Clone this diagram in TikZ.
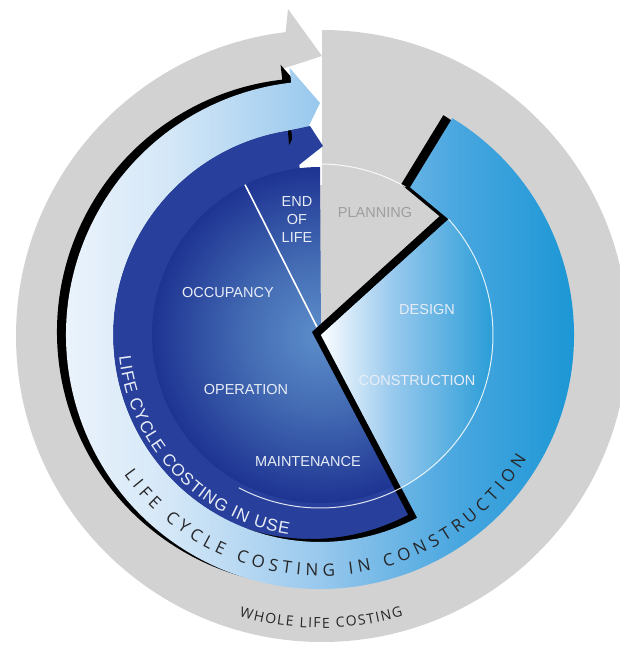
\documentclass[tikz,border=0pt]{standalone}
\usepackage{fontspec}
\setmainfont{Liberation Sans}
\newfontfamily\arcfont{Open Sans}
\usetikzlibrary{decorations.text}
\definecolor{wlgray}{RGB}{211,210,210}
\definecolor{usering}{RGB}{40,64,156}
\definecolor{usein}{RGB}{92,142,202}
\definecolor{usemid}{RGB}{68,108,180}
\definecolor{useout}{RGB}{30,52,146}
\definecolor{lc0}{RGB}{242,247,253}
\definecolor{lc1}{RGB}{212,231,247}
\definecolor{lc2}{RGB}{152,200,237}
\definecolor{lc3}{RGB}{72,166,223}
\definecolor{lc4}{RGB}{14,146,210}
\definecolor{dg0}{RGB}{252,253,255}
\definecolor{dg1}{RGB}{150,200,237}
\definecolor{dg2}{RGB}{30,152,213}
\definecolor{lbltxt}{RGB}{232,237,246}
\definecolor{plantxt}{RGB}{158,158,158}
\definecolor{arctxt}{RGB}{38,38,40}
\pgfdeclareradialshading{inuse}{\pgfpoint{0bp}{0bp}}{color(0bp)=(usein);color(11bp)=(usemid);color(25bp)=(useout);color(50bp)=(useout)}
\pgfdeclarehorizontalshading{lccons}{100bp}{color(0bp)=(lc0);color(25bp)=(lc0);color(37bp)=(lc1);color(50bp)=(lc2);color(62bp)=(lc3);color(75bp)=(lc4);color(100bp)=(lc4)}
\pgfdeclarehorizontalshading{design}{100bp}{color(0bp)=(dg0);color(25bp)=(dg0);color(45bp)=(dg1);color(75bp)=(dg2);color(100bp)=(dg2)}
\tikzset{
  lbl/.style={text=lbltxt,font=\fontsize{14.5}{18}\selectfont,inner sep=0pt},
  arctext/.style={decorate,decoration={text along path,text align=fit to path,text={#1}}},
}
% ring of construction costing, with the design sector and the arrow head
\newcommand\lccpath{(58.6:254) arc[start angle=58.6,end angle=-263.5,radius=254]
  -- (96.5:269) -- (0,232) -- (96.7:188) -- (96.5:207)
  arc[start angle=96.5,end angle=298,radius=207]
  -- (1,0) -- (42:173) -- (58.6:173) -- cycle}

\begin{document}
\begin{tikzpicture}[x=1pt,y=1pt,line join=round]
\useasboundingbox (-320,-310) rectangle (300,335);
\clip (-320,-310) rectangle (300,335);
\path
  (1,0)coordinate(V)
  (42:173)coordinate(T)
  (58.6:173)coordinate(N)
  (-3,8)coordinate(E0)
  (116.5:168)coordinate(E1)
  ;
% whole life costing
\fill[wlgray] (2,-1) circle (306);
\fill[white] (-32,330) -- (2,330) -- (2,150) -- (-38,150) -- (-38,266) -- (-32,270) -- cycle;
\fill[wlgray] (-32,326) -- (2,279) -- (-38,266) -- cycle;
% in use
\fill[usering] (V) -- (97:207) arc[start angle=97,end angle=305,radius=207] -- cycle;
\begin{scope}
  \clip (V) -- (90:168) arc[start angle=90,end angle=305,radius=168] -- cycle;
  \shade[shading=inuse] (0,0) circle (168);
\end{scope}
% construction
\begin{scope}[shift={(-9,3)}]
  \fill[black] \lccpath;
\end{scope}
\shade[shading=lccons] \lccpath;
\shade[shading=design] (V) -- (T) arc[start angle=42,end angle=-62,radius=173] -- cycle;
\fill[usering] (98:207) -- (-10,209) -- (3,189) -- (-21,170) -- (98:168) -- cycle;
\draw[white,line width=1.6] (E0) -- (E1);
\draw[white,line width=1,opacity=.85] (90:171) arc[start angle=90,end angle=60,radius=171];
\draw[white,line width=1,opacity=.85] (T) arc[start angle=42,end angle=-118,radius=173];
% labels
\node[lbl] (occ) at (-92,42) {OCCUPANCY};
\node[lbl] (opr) at (-74,-55) {OPERATION};
\node[lbl] (mnt) at (-12,-127) {MAINTENANCE};
\node[lbl] (des) at (107,25) {DESIGN};
\node[lbl] (con) at (97,-46) {CONSTRUCTION};
\node[lbl,align=center] (eol) at (-23,115) {END\\OF\\LIFE};
\node[lbl,text=plantxt] (pln) at (55,122) {PLANNING};
\path[arctext={|\fontsize{17}{17}\selectfont\color{lbltxt}|LIFE CYCLE COSTING IN USE}]
  (186:202) arc[start angle=186,end angle=261,radius=202];
\path[arctext={|\arcfont\fontsize{17}{17}\selectfont\color{arctxt}|LIFE CYCLE COSTING IN CONSTRUCTION}]
  (215.5:241) arc[start angle=215.5,end angle=329,radius=241];
\path[arctext={|\arcfont\fontsize{14}{14}\selectfont\color{arctxt}|WHOLE LIFE COSTING}]
  (254:293) arc[start angle=254,end angle=286.5,radius=293];
\end{tikzpicture}
\end{document}
